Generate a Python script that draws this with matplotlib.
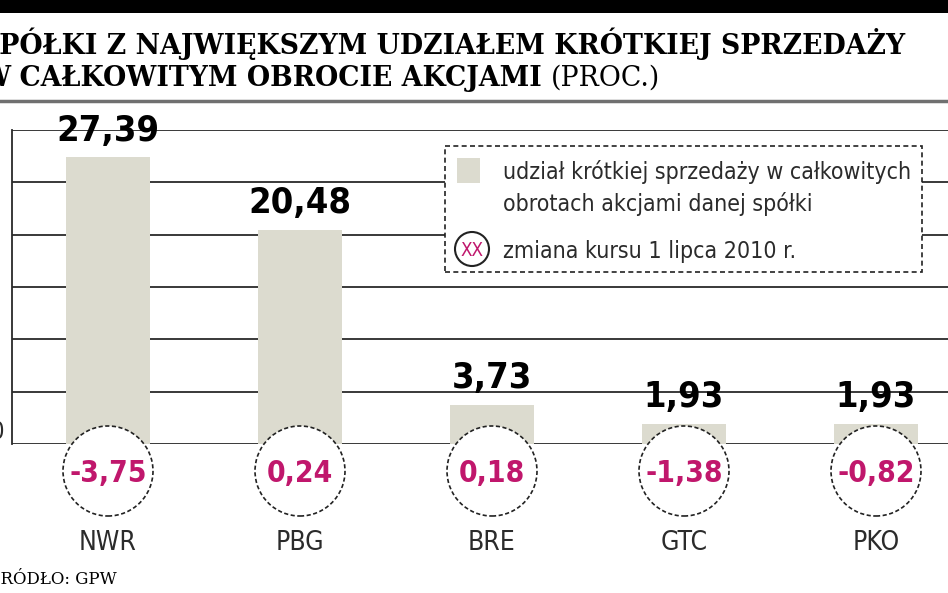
import matplotlib
matplotlib.use('Agg')
import matplotlib.pyplot as plt
from matplotlib import font_manager as fm
from matplotlib.patches import Rectangle, Ellipse
from matplotlib.lines import Line2D

# ---- data ----
companies = ['NWR', 'PBG', 'BRE', 'GTC', 'PKO']
short_share = [27.39, 20.48, 3.73, 1.93, 1.93]
price_change = [-3.75, 0.24, 0.18, -1.38, -0.82]
grid_values = [0, 5, 10, 15, 20, 25, 30]
ytick_values = [0]
ytick_labels = ['0']
title_line1 = 'SPÓŁKI Z NAJWIĘKSZYM UDZIAŁEM KRÓTKIEJ SPRZEDAŻY'
title_line2 = 'W CAŁKOWITYM OBROCIE AKCJAMI '
title_unit = '(PROC.)'
legend_bar_text = 'udział krótkiej sprzedaży w całkowitych\nobrotach akcjami danej spółki'
legend_circle_text = 'zmiana kursu 1 lipca 2010 r.'
legend_circle_symbol = 'XX'
source_text = 'ŹRÓDŁO: GPW'


def fmt(v):
    return f'{v:.2f}'.replace('.', ',')


# ---- pick a condensed sans font if one is installed ----
def _w(f):
    w = f.weight
    if isinstance(w, str):
        w = fm.weight_dict.get(w, 400)
    return int(w)


def find_condensed(bold):
    prefs = ['Liberation Sans Narrow', 'DejaVu Sans', 'Noto Sans', 'Roboto Condensed',
             'Roboto', 'Open Sans', 'Noto Sans Condensed', 'Open Sans Condensed']
    cands = []
    for f in fm.fontManager.ttflist:
        st = str(f.stretch).lower()
        nm = f.name
        cond = ('Narrow' in nm) or ('Condensed' in nm) or st in ('condensed', 'semi-condensed')
        if not cond:
            continue
        if str(f.style) != 'normal':
            continue
        try:
            p = prefs.index(nm)
        except ValueError:
            p = len(prefs)
        w = _w(f)
        wt = 700 if bold else 400
        cands.append((p, abs(w - wt), f.fname))
    if not cands:
        return None
    cands.sort()
    return cands[0][2]


_fb = find_condensed(True)
_fr = find_condensed(False)
K = 1.0 if (_fb and _fr) else 0.78


def fb(size):
    if _fb:
        return fm.FontProperties(fname=_fb, size=size * K)
    return fm.FontProperties(family='DejaVu Sans', weight='bold', size=size * K)


def fr(size):
    if _fr:
        return fm.FontProperties(fname=_fr, size=size * K)
    return fm.FontProperties(family='DejaVu Sans', size=size * K)


W, H = 948, 593
fig = plt.figure(figsize=(W / 100, H / 100), dpi=100)


def fx(px):
    return px / W


def fy(py):
    return 1 - py / H


SERIF = ['DejaVu Serif']
MAGENTA = '#c0176c'
BAR = '#dcdbcf'
LINE = '#2a2a2a'
TXT = '#2b2b2b'

# top black band and grey rule
fig.add_artist(Rectangle((0, fy(13)), 1, 13 / H, transform=fig.transFigure,
                         facecolor='black', edgecolor='none'))
fig.add_artist(Line2D([0, 1], [fy(101), fy(101)], transform=fig.transFigure,
                      color='#707070', lw=2.5))

# title
t1 = fig.text(fx(-20), fy(54), title_line1, family=SERIF, fontweight='bold',
              fontsize=19.3, va='baseline', ha='left')
t2 = fig.text(fx(-20), fy(86), title_line2, family=SERIF, fontweight='bold',
              fontsize=19.3, va='baseline', ha='left')

# axes
ax = fig.add_axes([fx(12), fy(444), fx(948) - fx(12), fy(130) - fy(444)])
ax.set_xlim(-0.5, 4.375)
ax.set_ylim(0, 30)
for s in ['top', 'right', 'bottom']:
    ax.spines[s].set_visible(False)
ax.spines['left'].set_color(LINE)
ax.spines['left'].set_linewidth(1.3)
for g in grid_values:
    ax.axhline(g, color=LINE, lw=1.3, zorder=1)

xpos = list(range(len(companies)))
ax.bar(xpos, short_share, width=0.44, color=BAR, zorder=2)
for i, v in enumerate(short_share):
    ax.annotate(fmt(v), (i, v), xytext=(0, 12), textcoords='offset points',
                ha='center', va='baseline', fontproperties=fb(26), zorder=5,
                annotation_clip=False)

ax.set_xticks(xpos)
ax.set_xticklabels(companies, fontproperties=fr(19), color=TXT)
ax.tick_params(axis='x', length=0, pad=62)
ax.set_yticks(ytick_values)
ax.set_yticklabels(ytick_labels, fontproperties=fr(17), color=TXT)
ax.tick_params(axis='y', length=0, pad=6)
for lab in ax.get_yticklabels():
    lab.set_va('bottom')

# change circles
cy = -27 * 30 / 314
ax.scatter(xpos, [cy] * len(xpos), s=(90 * 0.72) ** 2, marker='o',
           facecolor='white', edgecolor='#222222', linewidths=1.2,
           linestyle=(0, (2.5, 1.5)), zorder=3, clip_on=False)
for i, c in enumerate(price_change):
    ax.text(i, cy, fmt(c), ha='center', va='center_baseline', color=MAGENTA,
            fontproperties=fb(21.5), zorder=4, clip_on=False)

ax.annotate(title_unit, xy=(1, 0), xycoords=t2, va='bottom', ha='left',
            family=SERIF, fontsize=19.3, annotation_clip=False)

# legend
fig.add_artist(Rectangle((fx(445), fy(272)), fx(922) - fx(445), (272 - 146) / H,
                         transform=fig.transFigure, facecolor='white',
                         edgecolor='#222222', lw=1.2, linestyle=(0, (3, 2))))
fig.add_artist(Rectangle((fx(457), fy(183)), fx(480) - fx(457), (183 - 158) / H,
                         transform=fig.transFigure, facecolor=BAR,
                         edgecolor='none'))
fig.text(fx(503), fy(188), legend_bar_text, fontproperties=fr(16.6),
         va='center', ha='left', linespacing=1.4, color=TXT)
fig.add_artist(Ellipse((fx(472), fy(249)), 34 / W, 34 / H,
                       transform=fig.transFigure, facecolor='white',
                       edgecolor='#222222', lw=1.5))
fig.text(fx(472), fy(249), legend_circle_symbol, fontproperties=fr(13.5),
         color=MAGENTA, ha='center', va='center_baseline')
fig.text(fx(503), fy(249), legend_circle_text, fontproperties=fr(16.6),
         va='center_baseline', ha='left', color=TXT)

# source
fig.text(fx(-11), fy(584), source_text, family=SERIF, fontsize=12,
         va='baseline', ha='left')

fig.savefig('out.png', dpi=100)
